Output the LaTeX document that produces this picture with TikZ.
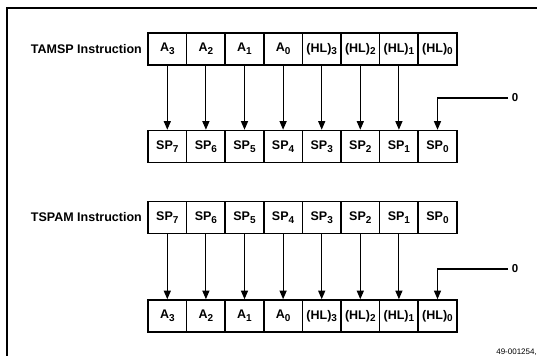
\documentclass[tikz,border=0pt]{standalone}
\usepackage{fontspec}
\setmainfont{Liberation Sans}
\usetikzlibrary{arrows.meta}

\newcommand{\sbx}[1]{\raisebox{-0.4ex}{\fontsize{10}{10}\selectfont #1}}

\tikzset{
  reg/.style={draw, line width=1.6pt, minimum width=38.6pt, minimum height=32pt,
    inner sep=0pt, font=\fontsize{12.5}{13}\selectfont\bfseries},
  lbl/.style={font=\fontsize{12.5}{13}\selectfont\bfseries, anchor=east, inner sep=0pt},
  feed/.style={line width=1.1pt, -{Triangle[length=8.5pt,width=7pt]}},
  frame/.style={line width=1.2pt}
}

\begin{document}
\begin{tikzpicture}[x=1pt,y=-1pt]
\useasboundingbox (0,0) rectangle (537,356);

% open frame: top and left edges
\draw[frame] (537,8) -- (7,8) -- (7,356);

% register contents
\def\Alist{A\sbx{3},A\sbx{2},A\sbx{1},A\sbx{0},(HL)\sbx{3},(HL)\sbx{2},(HL)\sbx{1},(HL)\sbx{0}}
\def\SPlist{SP\sbx{7},SP\sbx{6},SP\sbx{5},SP\sbx{4},SP\sbx{3},SP\sbx{2},SP\sbx{1},SP\sbx{0}}

% TAMSP: accumulator/(HL) -> stack pointer
\foreach \t [count=\i] in \Alist {
  \node[reg] (ta\i) at ({148+38.6*(\i-0.5)},49) {\t};
}
\foreach \t [count=\i] in \SPlist {
  \node[reg] (tb\i) at ({148+38.6*(\i-0.5)},146.5) {\t};
}
\node[lbl] (tl) at (142,49) {TAMSP Instruction};
\foreach \i in {1,...,7} { \draw[feed] (ta\i.south) -- (tb\i.north); }
\node[font=\fontsize{11.5}{12}\selectfont\bfseries, inner sep=0pt] (tz) at (515,98) {0};
\coordinate (tzs) at (508,98);
\draw[feed] (tzs) -| (tb8.north);

% TSPAM: stack pointer -> accumulator/(HL)
\foreach \t [count=\i] in \SPlist {
  \node[reg] (sa\i) at ({148+38.6*(\i-0.5)},217.5) {\t};
}
\foreach \t [count=\i] in \Alist {
  \node[reg] (sb\i) at ({148+38.6*(\i-0.5)},316) {\t};
}
\node[lbl] (sl) at (142,217.5) {TSPAM Instruction};
\foreach \i in {1,...,7} { \draw[feed] (sa\i.south) -- (sb\i.north); }
\node[font=\fontsize{11.5}{12}\selectfont\bfseries, inner sep=0pt] (sz) at (515,269) {0};
\coordinate (szs) at (508,269);
\draw[feed] (szs) -| (sb8.north);

% figure number
\node[font=\fontsize{8}{8}\selectfont, anchor=east, inner sep=0pt] (fig) at (537,352) {49-001254,};
\end{tikzpicture}
\end{document}
